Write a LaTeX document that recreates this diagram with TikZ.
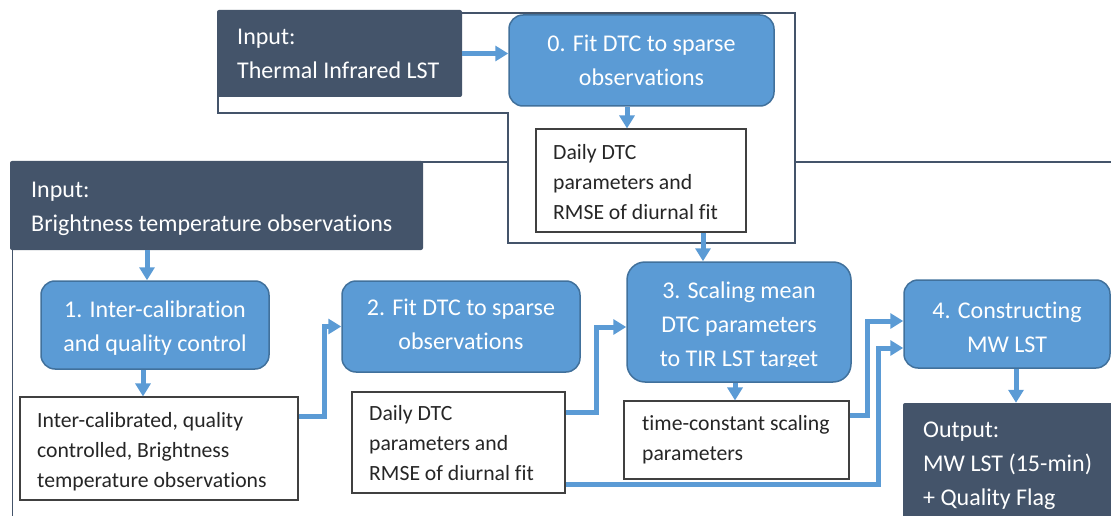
\documentclass[tikz,border=0pt]{standalone}
\usepackage{fontspec}
\setmainfont{Carlito}[Ligatures=NoCommon]
\usetikzlibrary{arrows.meta,calc}
\definecolor{navy}{HTML}{44546A}
\definecolor{skyfill}{HTML}{5B9BD5}
\definecolor{skyline}{HTML}{41719C}
\definecolor{boxline}{HTML}{404040}
\definecolor{arr}{HTML}{5B9BD5}
\definecolor{inktext}{HTML}{262626}
\begin{document}
\begin{tikzpicture}[x=1pt,y=-1pt,
  darkbox/.style={draw=none,fill=navy,rounded corners=2pt,inner sep=0pt},
  bluebox/.style={draw=skyline,line width=1.5pt,fill=skyfill,rounded corners=14pt,inner sep=0pt},
  whitebox/.style={draw=boxline,line width=1.1pt,fill=white,inner sep=0pt},
  frame/.style={draw=navy,line width=1.9pt},
  flow/.style={draw=arr,line width=5pt,-{Triangle[width=15pt,length=13pt]}},
  bigtxt/.style={inner sep=0pt,text=white,font=\fontsize{24}{34}\selectfont},
  smalltxt/.style={inner sep=0pt,text=inktext,font=\fontsize{21.7}{30}\selectfont}
]
\useasboundingbox (0,0) rectangle (1111,516);
\clip (0,0) rectangle (1111,516);

% frames
\draw[frame] (12.5,540) -- (12.5,162) -- (1140,162);
\draw[frame,fill=white] (218,13) -- (795,13) -- (795,243) -- (508,243) -- (508,113) -- (218,113) -- cycle;

% boxes
\node[darkbox,minimum width=245,minimum height=87] (tir) at (339.5,53.5) {};
\node[darkbox,minimum width=413,minimum height=89] (bt) at (216.5,205.5) {};
\node[darkbox,minimum width=222,minimum height=127] (out) at (1014,466.5) {};
\node[bluebox,minimum width=265,minimum height=91] (b0) at (641.5,60.5) {};
\node[whitebox,minimum width=210,minimum height=103] (d0) at (641,180.5) {};
\node[bluebox,minimum width=228,minimum height=88] (b1) at (155,325) {};
\node[whitebox,minimum width=278,minimum height=103] (ic) at (159,448.5) {};
\node[bluebox,minimum width=238,minimum height=91] (b2) at (461,326.5) {};
\node[whitebox,minimum width=213,minimum height=101] (d2) at (458.5,442.5) {};
\node[bluebox,rounded corners=18pt,minimum width=224,minimum height=120] (b3) at (739,322) {};
\node[whitebox,minimum width=225,minimum height=78] (tc) at (736.5,440) {};
\node[bluebox,minimum width=206,minimum height=88] (b4) at (1007,324) {};

% texts
\node[bigtxt,anchor=base west] (ttir) at (237,45) {\begin{tabular}[t]{@{}l@{}}Input:\\Thermal Infrared LST\end{tabular}};
\node[bigtxt,anchor=base west] (tbt) at (31,197) {\begin{tabular}[t]{@{}l@{}}Input:\\Brightness temperature observations\end{tabular}};
\node[bigtxt,anchor=base west] (tout) at (923,437) {\begin{tabular}[t]{@{}l@{}}Output:\\MW LST (15-min)\\+ Quality Flag\end{tabular}};
\node[bigtxt,anchor=base] (tb0) at (641.5,52) {\begin{tabular}[t]{@{}c@{}}0. Fit DTC to sparse\\observations\end{tabular}};
\node[bigtxt,anchor=base] (tb1) at (155,317) {\begin{tabular}[t]{@{}c@{}}1. Inter-calibration\\and quality control\end{tabular}};
\node[bigtxt,anchor=base] (tb2) at (461,315) {\begin{tabular}[t]{@{}c@{}}2. Fit DTC to sparse\\observations\end{tabular}};
\begin{scope}
\clip (b3.north west) rectangle ([yshift=16pt]b3.south east);
\node[bigtxt,anchor=base] (tb3) at (739,298) {\begin{tabular}[t]{@{}c@{}}3. Scaling mean\\DTC parameters\\to TIR LST target\end{tabular}};
\end{scope}
\node[bigtxt,anchor=base] (tb4) at (1007,318) {\begin{tabular}[t]{@{}c@{}}4. Constructing\\MW LST\end{tabular}};
\node[smalltxt,anchor=base west] (td0) at (553,160) {\begin{tabular}[t]{@{}l@{}}Daily DTC\\parameters and\\RMSE of diurnal fit\end{tabular}};
\node[smalltxt,anchor=base west] (tic) at (37,427) {\begin{tabular}[t]{@{}l@{}}Inter-calibrated, quality\\controlled, Brightness\\temperature observations\end{tabular}};
\node[smalltxt,anchor=base west] (td2) at (369,420) {\begin{tabular}[t]{@{}l@{}}Daily DTC\\parameters and\\RMSE of diurnal fit\end{tabular}};
\node[smalltxt,anchor=base west] (ttc) at (642,430) {\begin{tabular}[t]{@{}l@{}}time-constant scaling\\parameters\end{tabular}};

% connectors
\draw[flow] (tir.east) -- (tir.east -| b0.west);
\draw[flow] ([xshift=-14.5pt]b0.south) -- ([xshift=-14.5pt]b0.south |- d0.north);
\draw[flow] ([xshift=62pt]d0.south) -- ([xshift=62pt]d0.south |- b3.north);
\draw[flow] ([xshift=-8pt]b1.north |- bt.south) -- ([xshift=-8pt]b1.north);
\draw[flow] ([xshift=-12pt]b1.south) -- ([xshift=-12pt]b1.south |- ic.north);
\draw[flow] ([yshift=-20pt]ic.north east) -| ([xshift=-17pt]b2.west) -- (b2.west);
\draw[flow] ([yshift=-21pt]d2.north east) -| ([xshift=-30pt,yshift=-5pt]b3.west) -- ([yshift=-5pt]b3.west);
\draw[flow] ([yshift=-93pt]d2.north east) -| ([xshift=-25pt,yshift=-24pt]b4.west) -- ([yshift=-24pt]b4.west);
\draw[flow] ([yshift=-15pt]tc.north east) -| ([xshift=-36pt,yshift=3pt]b4.west) -- ([yshift=3pt]b4.west);
\draw[flow] ([xshift=-4pt]b3.south) -- ([xshift=-4pt]b3.south |- tc.north);
\draw[flow] ([xshift=9pt]b4.south) -- ([xshift=9pt]b4.south |- out.north);
\end{tikzpicture}
\end{document}
